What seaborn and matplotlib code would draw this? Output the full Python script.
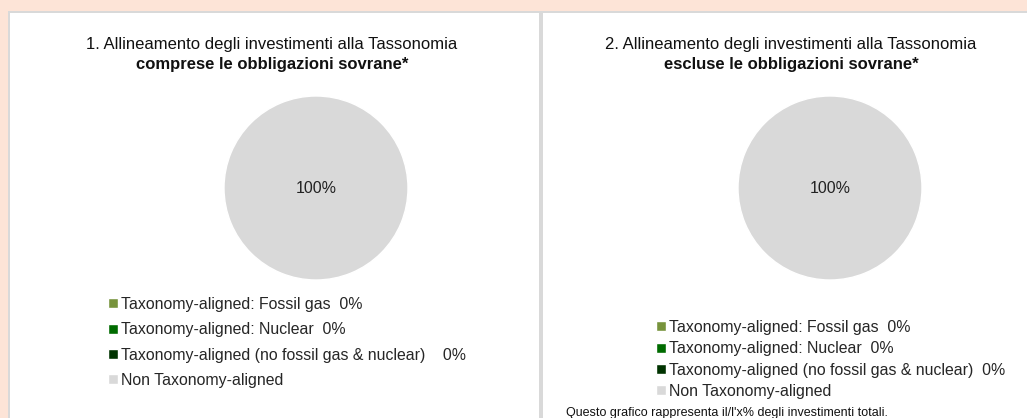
import matplotlib
matplotlib.use("Agg")
import matplotlib.pyplot as plt
import seaborn as sns
from matplotlib.patches import Rectangle

# --- data ---------------------------------------------------------------
categories = [
    "Taxonomy-aligned: Fossil gas",
    "Taxonomy-aligned: Nuclear",
    "Taxonomy-aligned (no fossil gas & nuclear)",
    "Non Taxonomy-aligned",
]
values_incl = [0, 0, 0, 100]
values_excl = [0, 0, 0, 100]
legend_incl = [
    "Taxonomy-aligned: Fossil gas  0%",
    "Taxonomy-aligned: Nuclear  0%",
    "Taxonomy-aligned (no fossil gas & nuclear)    0%",
    "Non Taxonomy-aligned",
]
legend_excl = [
    "Taxonomy-aligned: Fossil gas  0%",
    "Taxonomy-aligned: Nuclear  0%",
    "Taxonomy-aligned (no fossil gas & nuclear)  0%",
    "Non Taxonomy-aligned",
]
titles = [
    ("1. Allineamento degli investimenti alla Tassonomia", "comprese le obbligazioni sovrane*"),
    ("2. Allineamento degli investimenti alla Tassonomia", "escluse le obbligazioni sovrane*"),
]
footnote = "Questo grafico rappresenta il/l'x% degli investimenti totali."

sns.set_theme(style="white")
plt.rcParams["font.family"] = ["Liberation Sans", "DejaVu Sans"]
colors = sns.color_palette(["#77933c", "#006b00", "#003300", "#d9d9d9"])

W, H = 1027, 418
fig = plt.figure(figsize=(W / 100, H / 100), dpi=100)
fig.patch.set_facecolor("#fde4d7")


def px_rect(x0, y0, x1, y1, color):
    # rectangle in pixel coords measured from the top-left corner
    fig.patches.append(Rectangle((x0 / W, 1 - y1 / H), (x1 - x0) / W, (y1 - y0) / H,
                                 transform=fig.transFigure, facecolor=color,
                                 edgecolor="none", zorder=-5))


# white panels with light grey borders
px_rect(8, 11, W, H, "#d9d9d9")
px_rect(10, 13, W, H, "white")
px_rect(539, 13, 543, H, "#d9d9d9")


def autopct(p):
    return f"{p:.0f}%" if p > 0 else ""


def draw_pie(cx, cy, r, vals):
    ax = fig.add_axes([(cx - r) / W, 1 - (cy + r) / H, 2 * r / W, 2 * r / H], zorder=2)
    ax.set_facecolor("none")
    wedges, _, _ = ax.pie(vals, colors=colors, startangle=90, counterclock=False,
                          autopct=autopct, pctdistance=0,
                          textprops=dict(fontsize=11.5, color="#222222"))
    ax.set_xlim(-1, 1)
    ax.set_ylim(-1, 1)
    ax.set_aspect("equal")
    return wedges


w1 = draw_pie(316, 188, 92, values_incl)
w2 = draw_pie(830, 188, 92, values_excl)

# titles
for cx, (l1, l2) in zip([272, 791], titles):
    fig.text(cx / W, 1 - 45 / H, l1, ha="center", va="center", fontsize=12, color="#111111")
    fig.text(cx / W, 1 - 64 / H, l2, ha="center", va="center", fontsize=12,
             fontweight="bold", color="#111111")

# legends
fig.legend(w1, legend_incl, loc="upper left", bbox_to_anchor=(108 / W, 1 - 297 / H),
           frameon=False, fontsize=11.4, handlelength=0.6, handleheight=0.6,
           handletextpad=0.2, labelspacing=0.65, borderpad=0, borderaxespad=0)
fig.legend(w2, legend_excl, loc="upper left", bbox_to_anchor=(656 / W, 1 - 320 / H),
           frameon=False, fontsize=11.4, handlelength=0.6, handleheight=0.6,
           handletextpad=0.2, labelspacing=0.4, borderpad=0, borderaxespad=0)

fig.text(566 / W, 1 - 413 / H, footnote, ha="left", va="center", fontsize=9, color="#111111")

fig.savefig("out.png", dpi=100, facecolor=fig.get_facecolor())
